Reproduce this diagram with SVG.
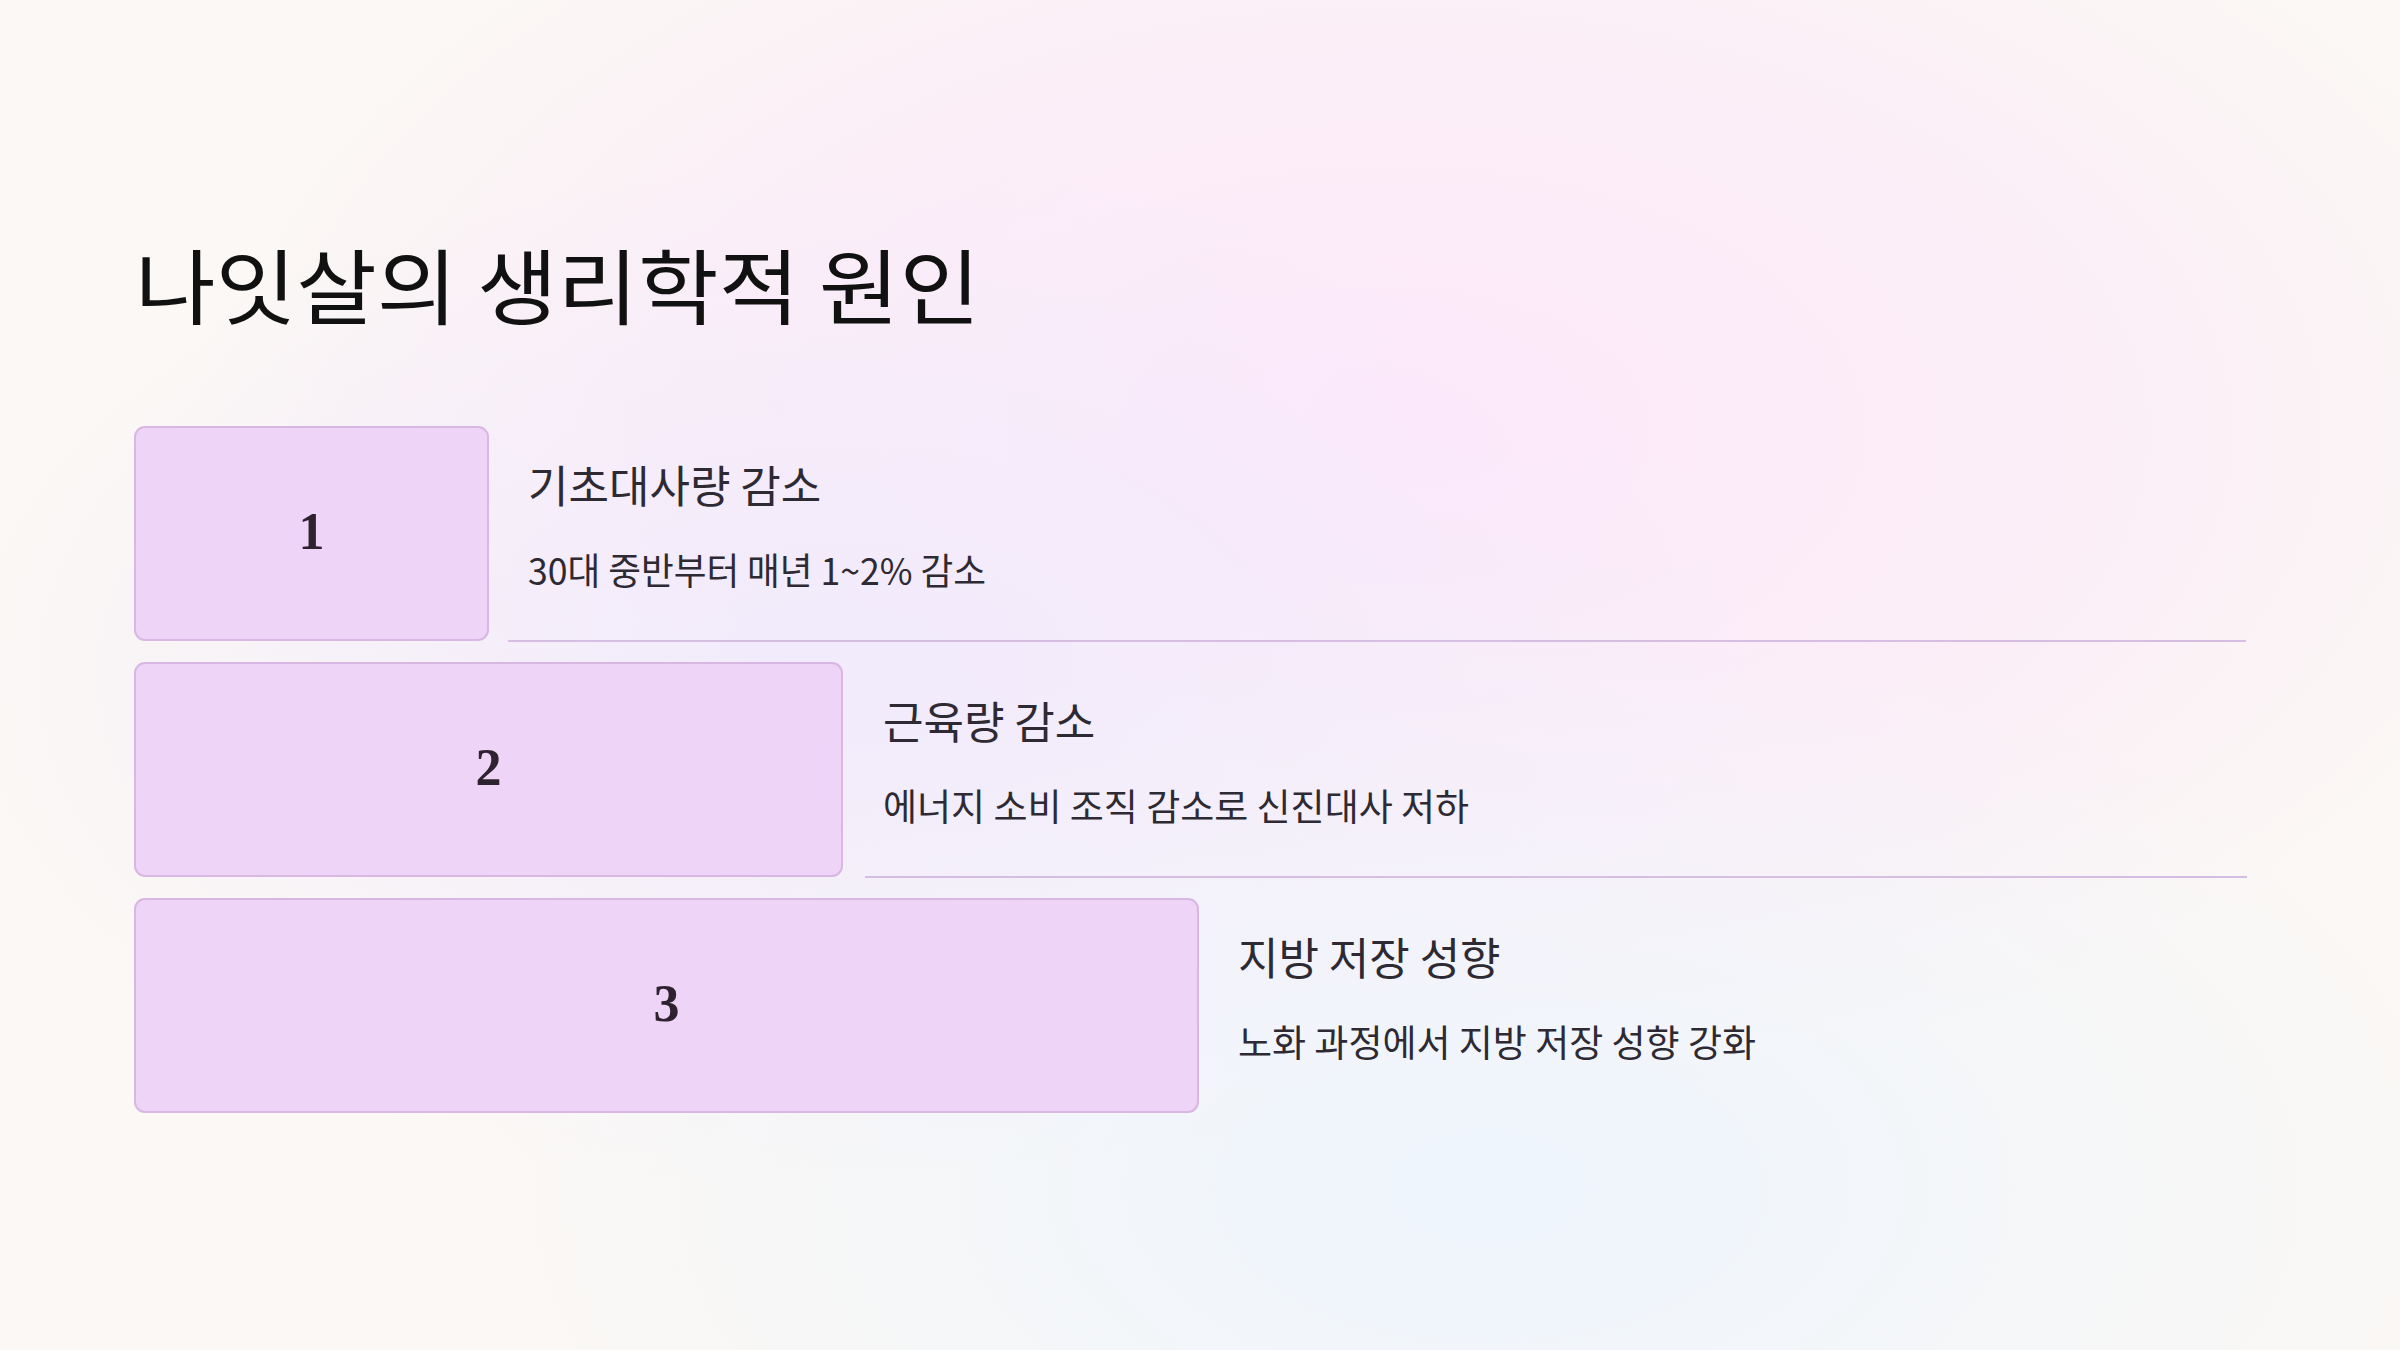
<svg xmlns="http://www.w3.org/2000/svg" width="2400" height="1350" viewBox="0 0 2400 1350">
<defs>
<radialGradient id="pink" cx="0.58" cy="0.32" r="0.5">
<stop offset="0" stop-color="#fde8fb" stop-opacity="1"/>
<stop offset="0.6" stop-color="#fbe9f8" stop-opacity="0.65"/>
<stop offset="1" stop-color="#fbeaf8" stop-opacity="0"/>
</radialGradient>
<radialGradient id="blue" cx="0.62" cy="0.88" r="0.42">
<stop offset="0" stop-color="#eef5fd" stop-opacity="1"/>
<stop offset="1" stop-color="#eef5fd" stop-opacity="0"/>
</radialGradient>
<radialGradient id="lav" cx="0.35" cy="0.5" r="0.38">
<stop offset="0" stop-color="#f1ebfc" stop-opacity="1"/>
<stop offset="1" stop-color="#f1ebfc" stop-opacity="0"/>
</radialGradient>
</defs>
<style>
.box{fill:#eed4f6;stroke:#d8b7e2;stroke-width:2}
.num{font-family:"Liberation Serif","Noto Serif",serif;font-weight:bold;font-size:52px;fill:#2e2230;text-anchor:middle}
.head{font-family:"Noto Sans CJK KR","Noto Sans",sans-serif;font-size:44px;fill:#2e2a33}
.desc{font-family:"Noto Sans CJK KR","Noto Sans",sans-serif;font-size:37px;fill:#2e2a33}
.title{font-family:"Noto Sans CJK KR","Noto Sans",sans-serif;font-size:82px;fill:#111111}
.sep{stroke:#d6bde2;stroke-width:2}
</style>
<rect width="2400" height="1350" fill="#fbf8f5"/>
<rect width="2400" height="1350" fill="url(#pink)"/>
<rect width="2400" height="1350" fill="url(#lav)"/>
<rect width="2400" height="1350" fill="url(#blue)"/>
<g id="title"><text class="title" x="135" y="318" textLength="845" lengthAdjust="spacingAndGlyphs">나잇살의 생리학적 원인</text></g>
<g id="connectors">
<line class="sep" x1="508" y1="641" x2="2246" y2="641"/>
<line class="sep" x1="865" y1="877" x2="2247" y2="877"/>
</g>
<g id="node1">
<rect class="box" x="135" y="427" width="353" height="213" rx="10"/>
<text class="num" x="311.5" y="549">1</text>
<text class="head" x="528" y="503">기초대사량 감소</text>
<text class="desc" x="528" y="585" textLength="458" lengthAdjust="spacingAndGlyphs">30대 중반부터 매년 1~2% 감소</text>
</g>
<g id="node2">
<rect class="box" x="135" y="663" width="707" height="213" rx="10"/>
<text class="num" x="488.5" y="785">2</text>
<text class="head" x="883" y="739">근육량 감소</text>
<text class="desc" x="883" y="821">에너지 소비 조직 감소로 신진대사 저하</text>
</g>
<g id="node3">
<rect class="box" x="135" y="899" width="1063" height="213" rx="10"/>
<text class="num" x="666.5" y="1021">3</text>
<text class="head" x="1238" y="975">지방 저장 성향</text>
<text class="desc" x="1238" y="1057">노화 과정에서 지방 저장 성향 강화</text>
</g>
</svg>
